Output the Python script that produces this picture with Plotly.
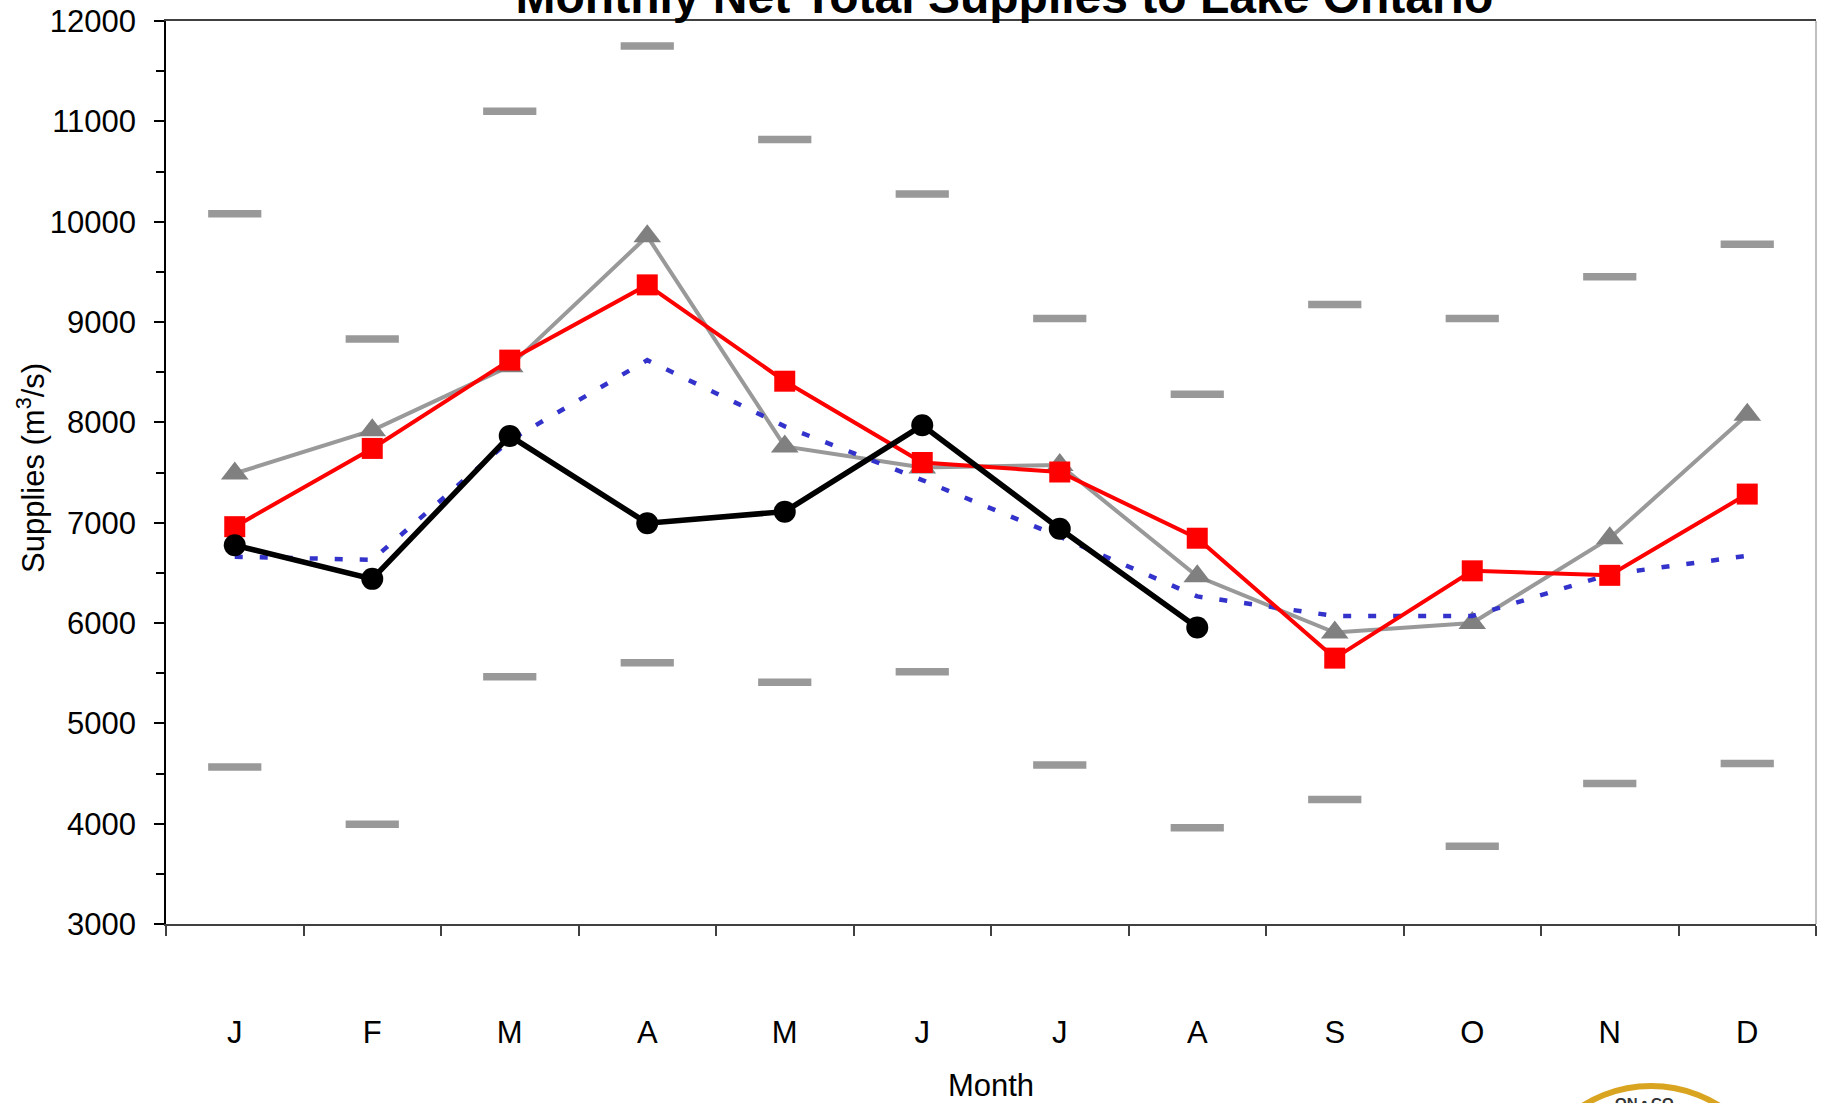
import plotly.graph_objects as go

# month labels (12 months) - J F M ... D
months = ["J", "F", "M", "A", "M", "J", "J", "A", "S", "O", "N", "D"]
month_idx = list(range(len(months)))

# monthly net total supplies (m3/s)
max_supply = [10080, 8830, 11100, 11750, 10820, 10275, 9035, 8280, 9175, 9035, 9450, 9775]
min_supply = [4565, 3995, 5465, 5605, 5410, 5515, 4585, 3960, 4240, 3775, 4400, 4600]
avg_supply = [6660, 6630, 7820, 8620, 7960, 7425, 6860, 6265, 6070, 6070, 6485, 6670]
grey_year = [7490, 7920, 8560, 9855, 7760, 7550, 7575, 6465, 5905, 6000, 6845, 8075]
red_year = [6960, 7740, 8620, 9370, 8410, 7600, 7505, 6845, 5650, 6520, 6475, 7285]
current_year = [6775, 6440, 7865, 6995, 7110, 7970, 6940, 5955]

FONT = "Liberation Sans, Arial, sans-serif"

fig = go.Figure()

# max / min bars
for vals in (max_supply, min_supply):
    fig.add_trace(go.Scatter(
        x=month_idx, y=vals, mode="markers",
        marker=dict(symbol="line-ew", size=38, line=dict(width=7.5, color="#999999")),
        hoverinfo="y"
    ))

fig.add_trace(go.Scatter(
    x=month_idx, y=grey_year, mode="lines+markers",
    line=dict(color="#999999", width=4),
    marker=dict(symbol="triangle-up", size=24, color="#808080")
))

fig.add_trace(go.Scatter(
    x=month_idx, y=avg_supply, mode="lines",
    line=dict(color="#3333cc", width=4.5, dash="8px,17px")
))

fig.add_trace(go.Scatter(
    x=month_idx, y=red_year, mode="lines+markers",
    line=dict(color="#ff0000", width=4),
    marker=dict(symbol="square", size=21, color="#ff0000")
))

fig.add_trace(go.Scatter(
    x=month_idx[:len(current_year)], y=current_year, mode="lines+markers",
    line=dict(color="#000000", width=5.5),
    marker=dict(symbol="circle", size=22, color="#000000")
))

fig.update_xaxes(
    range=[-0.5, 11.5],
    tickvals=month_idx,
    ticktext=months,
    ticks="",
    ticklabelstandoff=80,
    tickfont=dict(size=31, color="black"),
    minor=dict(tick0=-0.5, dtick=1, ticks="outside", ticklen=10, tickcolor="#404040", tickwidth=1.5),
    showline=True, linecolor="#404040", linewidth=2, mirror=True,
    showgrid=False, zeroline=False, automargin=False,
    title=dict(text="Month", font=dict(size=31, color="black"), standoff=26),
)

fig.update_yaxes(
    range=[3000, 12000],
    dtick=1000, tickformat="d",
    ticks="outside", ticklen=10, tickcolor="black", tickwidth=1.5,
    ticklabelstandoff=12,
    tickfont=dict(size=31, color="black"),
    minor=dict(dtick=500, ticks="outside", ticklen=8, tickcolor="black", tickwidth=1.5),
    showline=True, linecolor="black", linewidth=1.5,
    showgrid=False, zeroline=False, automargin=False,
)

# y axis title placed by hand (axis title standoff is clamped to the margin)
fig.add_annotation(text="Supplies (m<sup>3</sup>/s)", xref="paper", yref="paper",
                   x=-0.0818, y=0.505, xanchor="center", yanchor="middle",
                   textangle=-90, showarrow=False,
                   font=dict(size=31, color="black", family=FONT))

# light grey right border of the plot box
fig.add_shape(type="line", xref="paper", yref="paper", x0=1, x1=1, y0=0, y1=1,
              line=dict(color="#aaaaaa", width=1.5))

# partial logo at the bottom right
fig.add_shape(type="circle", xref="paper", yref="paper",
              x0=0.8224, x1=0.9776, y0=-0.4618, y1=-0.1795,
              line=dict(color="#d9a520", width=6), fillcolor="white", layer="above")
fig.add_annotation(text="<b>ON • CO</b>", xref="paper", yref="paper",
                   x=0.896, y=-0.186, xanchor="center", yanchor="top",
                   showarrow=False, font=dict(size=15, color="#333333", family=FONT))

fig.update_layout(
    title=dict(
        text="<b>Monthly Net Total Supplies to Lake Ontario</b>",
        x=0.551, xanchor="center", xref="container",
        y=0.9884, yanchor="bottom", yref="container",
        font=dict(size=48, color="black", family=FONT),
    ),
    width=1823, height=1103,
    margin=dict(l=166, r=7, t=21, b=179),
    showlegend=False,
    plot_bgcolor="white",
    paper_bgcolor="white",
    font=dict(family=FONT, color="black"),
)

# drop the default page margin so the figure sits at the window corner
fig.write_html("out.html", config={"displayModeBar": False},
               post_script="document.body.style.margin='0px';document.body.style.overflow='hidden';")
